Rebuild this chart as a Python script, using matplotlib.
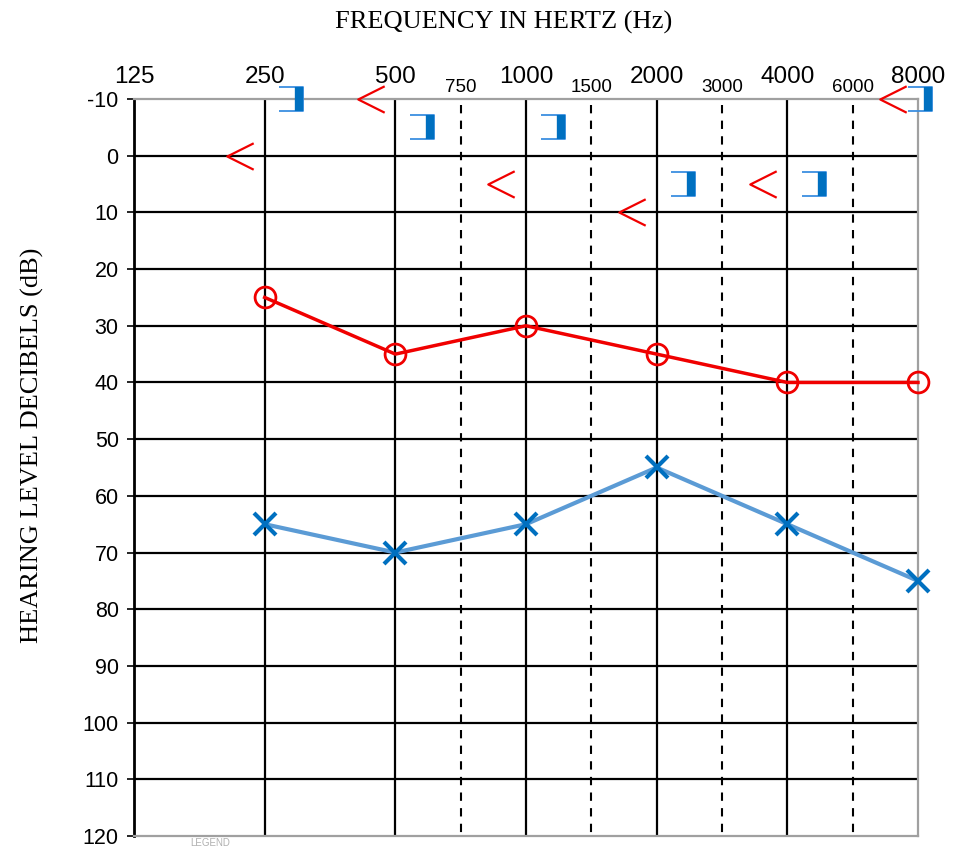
import numpy as np
import matplotlib
matplotlib.use("Agg")
import matplotlib.pyplot as plt
from matplotlib.path import Path

# audiogram data (dB HL)
freqs = [125, 250, 500, 1000, 2000, 4000, 8000]
mid_freqs = [750, 1500, 3000, 6000]
db_ticks = list(range(-10, 121, 10))

test_freqs = [250, 500, 1000, 2000, 4000, 8000]
right_air = [25, 35, 30, 35, 40, 40]        # red O
left_air = [65, 70, 65, 55, 65, 75]         # blue X
right_bone = [0, -10, 5, 10, 5, -10]        # red <
left_bone_masked = [-10, -5, -5, 5, 5, -10]  # blue ]

RED = "#f00000"
BLUE_LINE = "#5b9bd5"
BLUE_MARK = "#0070c0"


def octave(f):
    # position on the chart: octaves above 125 Hz
    return np.log2(np.asarray(f, dtype=float) / 125.0)


fig = plt.figure(figsize=(9.65, 8.49), dpi=100)
ax = fig.add_axes([134 / 965, 13 / 849, 784 / 965, 737 / 849])

ax.set_xlim(0, 6)
ax.set_ylim(120, -10)

# grid
for y in db_ticks[1:-1]:
    ax.axhline(y, color="black", lw=1.6, zorder=1)
for x in octave(freqs[1:-1]):
    ax.axvline(x, color="black", lw=1.6, zorder=1)
# half-octave lines sit midway between the octave lines
mid_pos = octave(freqs[3:]) - 0.5
ax.vlines(mid_pos, -9, 120, colors="black", lw=1.5, linestyles=(0, (4, 3.5)), zorder=1)

# spines
for side in ["top", "right", "bottom"]:
    ax.spines[side].set_color("#a0a0a0")
    ax.spines[side].set_linewidth(1.6)
ax.spines["left"].set_color("black")
ax.spines["left"].set_linewidth(2)

# ticks
ax.xaxis.tick_top()
ax.set_xticks(octave(freqs))
ax.set_xticklabels([str(f) for f in freqs], fontsize=17.5, family="Liberation Sans")
ax.set_xticks(mid_pos, minor=True)
ax.set_xticklabels([str(f) for f in mid_freqs], minor=True, fontsize=13.5,
                   family=["Liberation Sans Narrow", "Liberation Sans"])
ax.tick_params(axis="x", which="major", length=0, pad=8)
ax.tick_params(axis="x", which="minor", length=0, pad=2.5)
ax.set_yticks(db_ticks)
ax.set_yticklabels([str(v) for v in db_ticks], fontsize=15.5, family="Liberation Sans")
ax.tick_params(axis="y", length=5, width=1.2, pad=6)

# air conduction
tx = octave(test_freqs)
ax.plot(tx, right_air, color=RED, lw=2.5, marker="o", ms=15, mfc="none",
        mec=RED, mew=2, zorder=4, clip_on=False)
ax.plot(tx, left_air, color=BLUE_LINE, lw=3, zorder=3, clip_on=False)
ax.plot(tx, left_air, ls="none", marker="x", ms=16, mec=BLUE_MARK, mew=3,
        zorder=4, clip_on=False)

# bone conduction symbols
lt_marker = Path([(1, 1), (-1, 0), (1, -1)], [Path.MOVETO, Path.LINETO, Path.LINETO])
ax.plot(tx - 0.19, right_bone, ls="none", marker=lt_marker, ms=19, mfc="none",
        mec=RED, mew=1.6, zorder=5, clip_on=False)

bracket = Path([(-1, 1), (1, 1), (1, -1), (-1, -1)],
               [Path.MOVETO, Path.LINETO, Path.LINETO, Path.LINETO])
bar = Path([(0.66, 1), (0.66, -1)], [Path.MOVETO, Path.LINETO])
bx = np.where(tx == tx.max(), tx + 0.015, tx + 0.205)
ax.plot(bx, left_bone_masked, ls="none", marker=bracket, ms=17.5, mfc="none",
        mec="#3c8fe0", mew=1.3, zorder=5, clip_on=False)
ax.plot(bx, left_bone_masked, ls="none", marker=bar, ms=17.5, mfc="none",
        mec=BLUE_MARK, mew=6, zorder=5, clip_on=False)

# titles
fig.text(504 / 965, 1 - 22 / 849, "FREQUENCY IN HERTZ (Hz)", ha="center", va="center",
         fontsize=19, family="Liberation Serif")
fig.text(32 / 965, 1 - 445 / 849, "HEARING LEVEL DECIBELS (dB)", ha="center", va="center",
         rotation=90, fontsize=19, family="Liberation Serif")
fig.text(210 / 965, 1 / 849, "LEGEND", ha="center", va="bottom",
         fontsize=7, color="#b0b0b0", family="Liberation Sans")

fig.savefig("out.png", dpi=100)
